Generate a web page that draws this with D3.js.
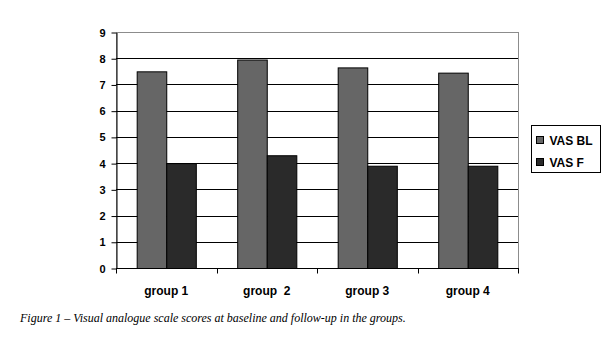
<!DOCTYPE html>
<html>
<head>
<meta charset="utf-8">
<script src="https://cdn.jsdelivr.net/npm/d3@7"></script>
<style>
  html, body { margin: 0; padding: 0; background: #fff; }
  svg { display: block; font-family: "Liberation Sans", Arial, sans-serif; }
</style>
</head>
<body>
<svg id="chart" width="610" height="345"></svg>
<script>
// Visual analogue scale scores per group
const groups = ["group 1", "group  2", "group 3", "group 4"];
const seriesNames = ["VAS BL", "VAS F"];
const vasBaseline = [7.5, 7.95, 7.65, 7.45];
const vasFollowUp = [4.0, 4.3, 3.9, 3.9];
const yTicks = [0, 1, 2, 3, 4, 5, 6, 7, 8, 9];
const colors = ["#666666", "#2a2a2a"];
const caption = "Figure 1 \u2013 Visual analogue scale scores at baseline and follow-up in the groups.";

const svg = d3.select("#chart");
const plot = { left: 116, top: 32, right: 518, bottom: 268 };

const x0 = d3.scaleBand().domain(groups).range([plot.left, plot.right]).paddingInner(0).paddingOuter(0);
const x1 = d3.scaleBand().domain(seriesNames).range([0, x0.bandwidth()]).paddingInner(0).paddingOuter(0.7);
const y = d3.scaleLinear().domain([0, 9]).range([plot.bottom, plot.top]);

// plot area border (grey)
svg.append("rect")
  .attr("x", plot.left + 0.5).attr("y", plot.top + 0.5)
  .attr("width", plot.right - plot.left).attr("height", plot.bottom - plot.top)
  .attr("fill", "#fff").attr("stroke", "#8c8c8c").attr("stroke-width", 1);

// horizontal gridlines
svg.append("g").selectAll("line")
  .data(yTicks.filter(d => d > 0 && d < 9))
  .join("line")
  .attr("x1", plot.left).attr("x2", plot.right)
  .attr("y1", d => Math.round(y(d)) + 0.5).attr("y2", d => Math.round(y(d)) + 0.5)
  .attr("stroke", "#000").attr("stroke-width", 1);

// bars
const rows = groups.map((g, i) => ({ group: g, values: [vasBaseline[i], vasFollowUp[i]] }));
svg.append("g").selectAll("g")
  .data(rows)
  .join("g")
  .attr("transform", d => `translate(${x0(d.group)},0)`)
  .selectAll("rect")
  .data(d => d.values.map((v, j) => ({ key: seriesNames[j], value: v, idx: j })))
  .join("rect")
  .attr("x", d => x1(d.key) + 0.5)
  .attr("y", d => y(d.value) + 0.5)
  .attr("width", x1.bandwidth())
  .attr("height", d => y(0) - y(d.value))
  .attr("fill", d => colors[d.idx])
  .attr("stroke", "#000").attr("stroke-width", 1);

// y axis
const yAxis = svg.append("g")
  .attr("transform", `translate(${plot.left + 0.5},0.5)`)
  .call(d3.axisLeft(y).tickValues(yTicks).tickSize(5).tickSizeOuter(0).tickPadding(6));
yAxis.select(".domain").attr("stroke", "#000");
yAxis.selectAll(".tick line").attr("stroke", "#000");
yAxis.selectAll("text")
  .attr("fill", "#000")
  .style("font-family", "'Liberation Sans', Arial, sans-serif")
  .style("font-size", "11px").style("font-weight", "bold");

// x axis with ticks at category boundaries
const xAxis = svg.append("g")
  .attr("transform", `translate(0,${plot.bottom + 0.5})`);
xAxis.append("line")
  .attr("x1", plot.left).attr("x2", plot.right + 1)
  .attr("y1", 0).attr("y2", 0)
  .attr("stroke", "#000");
const boundaries = groups.map(g => x0(g)).concat([plot.right]);
xAxis.selectAll("line.tick")
  .data(boundaries)
  .join("line").attr("class", "tick")
  .attr("x1", d => Math.round(d) + 0.5).attr("x2", d => Math.round(d) + 0.5)
  .attr("y1", 0).attr("y2", 5)
  .attr("stroke", "#000");
xAxis.selectAll("text")
  .data(groups)
  .join("text")
  .attr("x", d => x0(d) + x0.bandwidth() / 2)
  .attr("y", 26)
  .attr("text-anchor", "middle")
  .style("font-size", "12px").style("font-weight", "bold")
  .style("white-space", "pre")
  .attr("xml:space", "preserve")
  .text(d => d);

// legend
const legend = svg.append("g").attr("transform", "translate(531.5,125.5)");
legend.append("rect").attr("width", 69).attr("height", 47)
  .attr("fill", "#fff").attr("stroke", "#000");
const items = legend.selectAll("g.item").data(seriesNames).join("g").attr("class", "item")
  .attr("transform", (d, i) => `translate(5,${15 + i * 22})`);
items.append("rect").attr("x", 0).attr("y", -4).attr("width", 7).attr("height", 7)
  .attr("fill", (d, i) => colors[i]).attr("stroke", "#000");
items.append("text").attr("x", 13).attr("y", 4)
  .style("font-size", "12px").style("font-weight", "bold").text(d => d);

// caption
svg.append("text")
  .attr("x", 20).attr("y", 322)
  .style("font-family", "'Liberation Serif', 'Times New Roman', serif")
  .style("font-style", "italic")
  .style("font-size", "12px")
  .attr("fill", "#000")
  .text(caption);
</script>
</body>
</html>
